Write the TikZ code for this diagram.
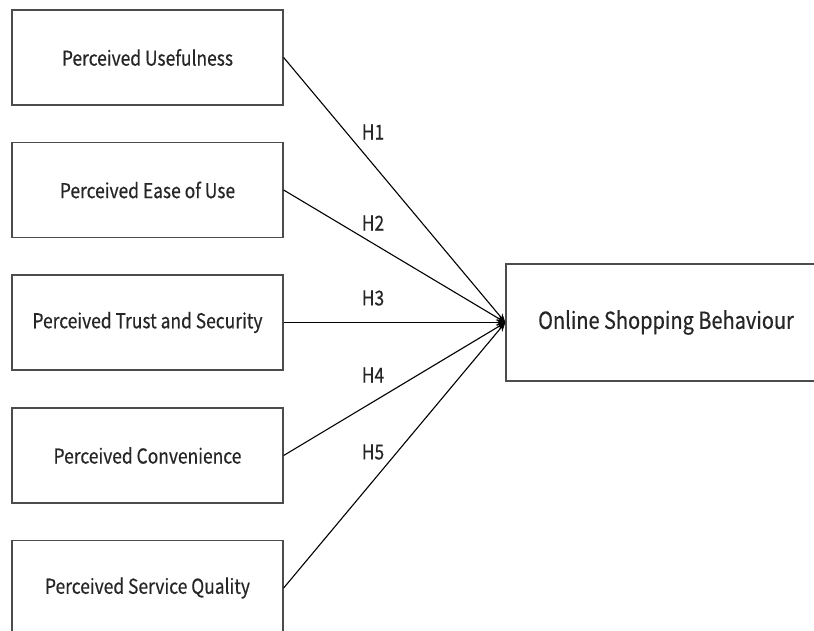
\documentclass[tikz,border=0pt]{standalone}
\usepackage{fontspec}
\setmainfont{Noto Sans CJK SC}[FakeStretch=0.85,FakeBold=0.4]
\usetikzlibrary{arrows.meta}
\begin{document}
\begin{tikzpicture}[x=1pt,y=-1pt,
  srcbox/.style={draw=black!70,line width=1.3pt,minimum width=271pt,minimum height=95pt,inner sep=0pt,text=black!85,font=\fontsize{20.5}{24}\selectfont},
  tgtbox/.style={draw=black!70,line width=1.3pt,minimum width=320pt,minimum height=117pt,inner sep=0pt,text=black!85,font=\fontsize{23.5}{28}\selectfont},
  hyp/.style={draw=black,line width=1.1pt,-{Stealth[length=9pt,width=7pt]}},
  hlab/.style={text=black!85,font=\fontsize{20.5}{24}\selectfont}]
\useasboundingbox (0,0) rectangle (814,630);
\begin{scope}
\clip (0,0) rectangle (814,630);
\node[srcbox] (pu) at (147.5,57.5) {Perceived Usefulness};
\node[srcbox] (pe) at (147.5,190) {Perceived Ease of Use};
\node[srcbox] (pt) at (147.5,322.5) {Perceived Trust and Security};
\node[srcbox] (pc) at (147.5,455.5) {Perceived Convenience};
\node[srcbox] (ps) at (147.5,588) {Perceived Service Quality};
\node[tgtbox] (osb) at (666,322.5) {Online Shopping Behaviour};
\draw[hyp] (pu.east) -- (osb.west);
\draw[hyp] (pe.east) -- (osb.west);
\draw[hyp] (pt.east) -- (osb.west);
\draw[hyp] (pc.east) -- (osb.west);
\draw[hyp] (ps.east) -- (osb.west);
\node[hlab] (h1) at (373,132) {H1};
\node[hlab] (h2) at (373,223) {H2};
\node[hlab] (h3) at (373,298) {H3};
\node[hlab] (h4) at (373,375) {H4};
\node[hlab] (h5) at (373,452) {H5};
\end{scope}
\end{tikzpicture}
\end{document}
